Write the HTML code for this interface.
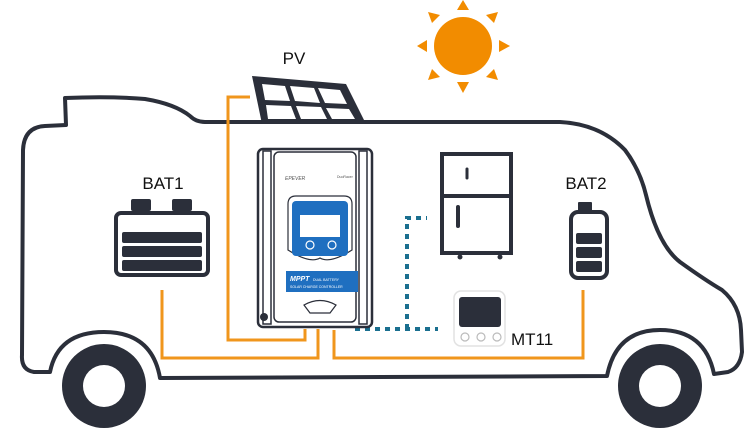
<!DOCTYPE html>
<html><head><meta charset="utf-8"><style>html,body{margin:0;padding:0;background:#fff}svg{display:block}text{font-family:"Liberation Sans",sans-serif}</style></head><body>
<svg width="750" height="444" viewBox="0 0 750 444" xmlns="http://www.w3.org/2000/svg">
<!-- sun -->
<g fill="#f28c00">
<circle cx="463" cy="46" r="29"/>
<polygon points="457,10 469,10 463,0"/>
<polygon points="457,82 469,82 463,93"/>
<polygon points="427,40 427,52 417,46"/>
<polygon points="499,40 499,52 510,46"/>
<polygon points="432,23 440,15 428,12"/>
<polygon points="486,15 494,23 498,12"/>
<polygon points="432,69 440,77 428,80"/>
<polygon points="486,77 494,69 498,80"/>
</g>
<text x="294" y="64" font-size="17" text-anchor="middle" fill="#111">PV</text>
<!-- van -->
<path d="M66,125 L65,98 Q110,96 145,99 Q175,104 190,116 Q196,122 205,122 L560,122 Q600,124 625,150 Q640,170 646,195 Q658,245 680,262 Q705,280 722,290 Q740,305 741,330 L742,352 Q740,368 728,372 L714,374 Q705,330 660,330 Q616,330 607,376 L160,378 Q152,332 104,332 Q58,332 50,372 L34,372 Q21,370 22,355 L23,150 Q24,127 45,126 Z" fill="#fff" stroke="#2b2f3a" stroke-width="4" stroke-linejoin="round"/>
<circle cx="104" cy="386" r="42" fill="#2b2f3a"/><circle cx="104" cy="386" r="21" fill="#fff"/>
<circle cx="660" cy="386" r="42" fill="#2b2f3a"/><circle cx="660" cy="386" r="21" fill="#fff"/>
<!-- orange wires -->
<g fill="none" stroke="#f0961c" stroke-width="3">
<polyline points="250,97 228,97 228,340 305,340 305,329"/>
<polyline points="162,290 162,358 318,358 318,329"/>
<polyline points="583,290 583,358 334,358 334,330"/>
</g>
<g fill="none" stroke="#1a6f8f" stroke-width="4" stroke-dasharray="5,5">
<polyline points="355,329 438,329"/>
<polyline points="407,329 407,218 427,218"/>
</g>
<!-- solar panel -->
<polygon points="252,76 346,84 366,124 262,124" fill="#2b2f3a"/>
<g fill="#fff">
<polygon points="262,84 285,86 290,101 265,100"/>
<polygon points="290,86 314,88 320,103 295,101"/>
<polygon points="318,88 340,90 347,104 325,103"/>
<polygon points="266,105 291,106 296,119 268,119"/>
<polygon points="296,106 321,107 327,119 301,119"/>
<polygon points="326,108 349,109 355,119 332,119"/>
</g>
<!-- controller -->
<rect x="258" y="149" width="114" height="178" rx="5" fill="#fff" stroke="#2b2f3a" stroke-width="2.5"/>
<rect x="263" y="151" width="8" height="173" fill="#fff" stroke="#2b2f3a" stroke-width="1.5"/>
<rect x="359" y="151" width="8" height="173" fill="#fff" stroke="#2b2f3a" stroke-width="1.5"/>
<rect x="274" y="152" width="82" height="170" rx="5" fill="#fff" stroke="#2b2f3a" stroke-width="1.5"/>
<text x="285" y="180" font-size="5" fill="#555" font-style="italic">EPEVER</text>
<text x="337" y="178" font-size="3.5" fill="#555">DuoRacer</text>
<path d="M288,204 Q288,196 296,196 L344,196 Q352,196 352,204 L352,250 Q330,264 320,258 Q310,264 288,250 Z" fill="#fff" stroke="#2b2f3a" stroke-width="1.2"/>
<rect x="292" y="201" width="56" height="55" rx="4" fill="#1f6fc0"/>
<rect x="300" y="215" width="40" height="22" fill="#fff"/>
<circle cx="310" cy="245" r="4" fill="none" stroke="#fff" stroke-width="1.2"/>
<circle cx="332" cy="245" r="4" fill="none" stroke="#fff" stroke-width="1.2"/>
<rect x="286" y="271" width="72" height="21" fill="#1f6fc0"/>
<text x="290" y="281" font-size="7" font-weight="bold" font-style="italic" fill="#fff">MPPT</text>
<text x="313" y="281" font-size="3.5" fill="#fff">DUAL BATTERY</text>
<text x="290" y="288" font-size="3.5" fill="#fff">SOLAR CHARGE CONTROLLER</text>
<path d="M304,305 Q320,296 336,305 L330,313 L310,313 Z" fill="#fff" stroke="#2b2f3a" stroke-width="1.2"/>
<circle cx="264" cy="317" r="4" fill="#2b2f3a"/>
<!-- fridge -->
<rect x="442" y="154" width="69" height="99" fill="#fff" stroke="#2b2f3a" stroke-width="4"/>
<line x1="442" y1="196" x2="511" y2="196" stroke="#2b2f3a" stroke-width="4"/>
<line x1="467" y1="169" x2="467" y2="178" stroke="#2b2f3a" stroke-width="3" stroke-linecap="round"/>
<line x1="458" y1="207" x2="458" y2="226" stroke="#2b2f3a" stroke-width="4" stroke-linecap="round"/>
<circle cx="460" cy="257" r="2.5" fill="#2b2f3a"/><circle cx="500" cy="257" r="2.5" fill="#2b2f3a"/>
<!-- BAT1 -->
<text x="163" y="189" font-size="17" text-anchor="middle" fill="#111">BAT1</text>
<rect x="131" y="199" width="20" height="12" rx="2" fill="#2b2f3a"/>
<rect x="172" y="199" width="20" height="12" rx="2" fill="#2b2f3a"/>
<rect x="116" y="213" width="92" height="62" rx="5" fill="#fff" stroke="#2b2f3a" stroke-width="4"/>
<rect x="122" y="232" width="80" height="11" rx="2" fill="#2b2f3a"/>
<rect x="122" y="246" width="80" height="11" rx="2" fill="#2b2f3a"/>
<rect x="122" y="260" width="80" height="11" rx="2" fill="#2b2f3a"/>
<!-- BAT2 -->
<text x="586" y="189" font-size="17" text-anchor="middle" fill="#111">BAT2</text>
<rect x="578" y="202" width="14" height="9" rx="1" fill="#2b2f3a"/>
<rect x="571" y="212" width="36" height="66" rx="7" fill="#fff" stroke="#2b2f3a" stroke-width="4"/>
<rect x="576" y="233" width="26" height="11" rx="2" fill="#2b2f3a"/>
<rect x="576" y="247" width="26" height="11" rx="2" fill="#2b2f3a"/>
<rect x="576" y="261" width="26" height="11" rx="2" fill="#2b2f3a"/>
<!-- MT11 -->
<rect x="454" y="291" width="51" height="55" rx="7" fill="#fff" stroke="#e2e2e2" stroke-width="1.5"/>
<rect x="459" y="297" width="42" height="30" rx="3" fill="#2b2f3a"/>
<circle cx="465" cy="337" r="4" fill="none" stroke="#bbb" stroke-width="1.2"/>
<circle cx="481" cy="337" r="4" fill="none" stroke="#bbb" stroke-width="1.2"/>
<circle cx="497" cy="337" r="4" fill="none" stroke="#bbb" stroke-width="1.2"/>
<text x="511" y="345" font-size="17" fill="#111">MT11</text>
</svg>
</body></html>
